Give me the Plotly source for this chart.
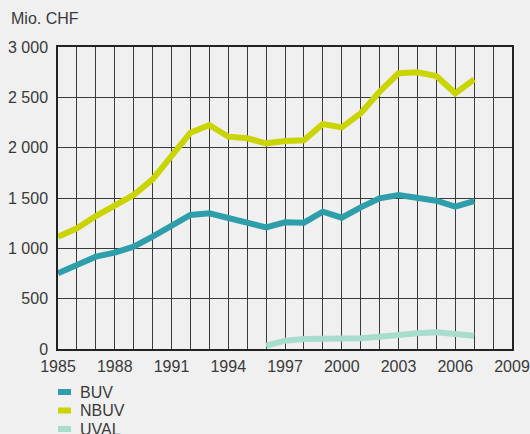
import plotly.graph_objects as go

years = list(range(1985, 2008))
buv = [752, 834, 917, 957, 1016, 1116, 1232, 1331, 1348, 1305, 1248, 1209, 1258, 1255,
       1364, 1304, 1407, 1497, 1530, 1507, 1473, 1414, 1470]
nbuv = [1116, 1199, 1321, 1430, 1530, 1686, 1910, 2149, 2225, 2109, 2093, 2043, 2066, 2073,
        2235, 2202, 2341, 2556, 2739, 2749, 2712, 2540, 2679]
uval_years = list(range(1996, 2008))
uval = [33, 83, 99, 99, 99, 106, 122, 142, 156, 166, 149, 132]

series_names = ["BUV", "NBUV", "UVAL"]
series_colors = ["#2f9eab", "#c9d400", "#a8dccd"]

x_ticks = list(range(1985, 2010, 3))
y_ticks = [0, 500, 1000, 1500, 2000, 2500, 3000]
y_labels = ["0", "500", "1 000", "1 500", "2 000", "2 500", "3 000"]

BG = "#eff0ef"
TXT = "#3a3a3a"
FONT = "Liberation Sans, Arial, sans-serif"
FS = 16

W, H = 530, 434
ml, mr, mt, mb = 58, 18, 47, 85
pw, ph = W - ml - mr, H - mt - mb


def px_to_paper_x(px):
    return (px - ml) / pw


def px_to_paper_y(py):
    return (H - mb - py) / ph


fig = go.Figure()
data = [(years, buv), (years, nbuv), (uval_years, uval)]
for (xs, ys), name, col in zip(data, series_names, series_colors):
    fig.add_trace(go.Scatter(x=xs, y=ys, name=name, mode="lines",
                             line=dict(color=col, width=6), showlegend=False))

# legend drawn below the chart
for i, (name, col) in enumerate(zip(series_names, series_colors)):
    yc = 392 + i * 18.5
    fig.add_shape(type="rect", xref="paper", yref="paper",
                  x0=px_to_paper_x(58), x1=px_to_paper_x(71),
                  y0=px_to_paper_y(yc + 3), y1=px_to_paper_y(yc - 3),
                  line=dict(width=0), fillcolor=col)
    fig.add_annotation(text=name, xref="paper", yref="paper",
                       x=px_to_paper_x(78), y=px_to_paper_y(yc),
                       xanchor="left", yanchor="middle", showarrow=False,
                       font=dict(size=FS, color=TXT, family=FONT))

fig.add_annotation(text="Mio. CHF", xref="paper", yref="paper",
                   x=px_to_paper_x(9), y=px_to_paper_y(18.5),
                   xanchor="left", yanchor="middle", showarrow=False,
                   font=dict(size=FS, color=TXT, family=FONT))

fig.update_xaxes(range=[1985, 2009], tickvals=x_ticks, ticks="", showgrid=True,
                 gridcolor="#3a3a3a", gridwidth=1, automargin=False,
                 minor=dict(dtick=1, tick0=1985, showgrid=True, gridcolor="#3a3a3a", gridwidth=1),
                 showline=True, linecolor="#222222", linewidth=1.5, mirror=True,
                 zeroline=False, tickfont=dict(size=FS, color=TXT, family=FONT),
                 ticklabelstandoff=2)
fig.update_yaxes(range=[0, 3000], tickvals=y_ticks, ticktext=y_labels, ticks="",
                 showgrid=True, gridcolor="#3a3a3a", gridwidth=1, automargin=False,
                 showline=True, linecolor="#222222", linewidth=1.5, mirror=True,
                 zeroline=False, tickfont=dict(size=FS, color=TXT, family=FONT),
                 ticklabelstandoff=5)
fig.update_layout(width=W, height=H, margin=dict(l=ml, r=mr, t=mt, b=mb),
                  paper_bgcolor=BG, plot_bgcolor=BG, showlegend=False,
                  font=dict(family=FONT, color=TXT))

fig.write_html(
    "out.html",
    config={"displayModeBar": False},
    post_script="document.body.style.margin='0';document.body.style.overflow='hidden';"
                "document.body.style.background='" + BG + "';",
)
